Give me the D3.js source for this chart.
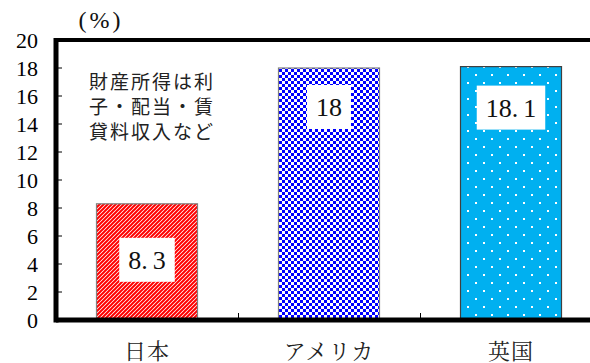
<!DOCTYPE html>
<html>
<head>
<meta charset="utf-8">
<script src="https://cdn.jsdelivr.net/npm/d3@7"></script>
<style>
  body { margin: 0; background: #fff; }
  svg { display: block; }
</style>
</head>
<body>
<div id="chart"></div>
<script>
// chart data
var categories = ["日本", "アメリカ", "英国"];
var values = [8.3, 18, 18.1];
var yTicks = [0, 2, 4, 6, 8, 10, 12, 14, 16, 18, 20];
var unitLabel = "(%)";
var noteLines = ["財産所得は利", "子・配当・賃", "貸料収入など"];

// layout / style
var width = 590, height = 363;
var plotLeft = 56, plotTop = 40, plotBottom = 320, bandRight = 602;
var fills = ["url(#stripe)", "url(#check)", "url(#dots)"];
var labelDrop = [56, 39, 41];   // px below bar top for the value box
var serif = "Liberation Serif";
var mincho = "Noto Serif CJK JP";
var gothic = "Noto Sans CJK JP";

var svg = d3.select("#chart").append("svg")
    .attr("width", width).attr("height", height);

// patterns
var defs = svg.append("defs");
var st = defs.append("pattern").attr("id", "stripe")
    .attr("patternUnits", "userSpaceOnUse").attr("width", 4).attr("height", 4);
st.append("rect").attr("width", 4).attr("height", 4).attr("fill", "#fff");
st.append("path").attr("d", "M-1,1 l2,-2 M0,4 l4,-4 M3,5 l2,-2")
    .attr("stroke", "#ff0000").attr("stroke-width", 2);

var ck = defs.append("pattern").attr("id", "check")
    .attr("patternUnits", "userSpaceOnUse").attr("width", 6).attr("height", 6);
ck.append("rect").attr("width", 6).attr("height", 6).attr("fill", "#fff");
ck.append("rect").attr("width", 3).attr("height", 3).attr("fill", "#0000ff");
ck.append("rect").attr("x", 3).attr("y", 3).attr("width", 3).attr("height", 3).attr("fill", "#0000ff");

var dt = defs.append("pattern").attr("id", "dots")
    .attr("patternUnits", "userSpaceOnUse").attr("width", 16).attr("height", 16)
    .attr("x", 3).attr("y", 2);
dt.append("rect").attr("width", 16).attr("height", 16).attr("fill", "#00b0f0");
dt.append("rect").attr("x", 0).attr("y", 0).attr("width", 2).attr("height", 2).attr("fill", "#fff");
dt.append("rect").attr("x", 8).attr("y", 8).attr("width", 2).attr("height", 2).attr("fill", "#fff");

// scales
var x = d3.scaleBand().domain(categories).range([plotLeft, bandRight]).padding(0);
var y = d3.scaleLinear().domain([0, 20]).range([plotBottom, plotTop]);
var barW = x.bandwidth() * 0.555;

// y axis labels + inner ticks
var yAxis = d3.axisLeft(y).tickValues(yTicks).tickSize(0).tickPadding(18);
var gy = svg.append("g").attr("transform", "translate(" + plotLeft + ",0)").call(yAxis)
    .attr("font-family", serif).attr("font-size", 22);
gy.select(".domain").remove();
gy.selectAll("text").style("font-family", serif).attr("fill", "#000");
svg.selectAll(".ytick").data(yTicks.slice(1, -1)).enter().append("line")
    .attr("x1", plotLeft).attr("x2", plotLeft + 6)
    .attr("y1", function (d) { return y(d); }).attr("y2", function (d) { return y(d); })
    .attr("stroke", "#000").attr("stroke-width", 1);

// category separators on the x axis
svg.selectAll(".xtick").data(categories.slice(1)).enter().append("line")
    .attr("x1", function (d) { return x(d) + 0.5; }).attr("x2", function (d) { return x(d) + 0.5; })
    .attr("y1", plotBottom - 7).attr("y2", plotBottom)
    .attr("stroke", "#000").attr("stroke-width", 1);

// bars
svg.selectAll(".bar").data(values).enter().append("rect")
    .attr("x", function (d, i) { return x(categories[i]) + (x.bandwidth() - barW) / 2; })
    .attr("y", function (d) { return y(d); })
    .attr("width", barW)
    .attr("height", function (d) { return y(0) - y(d); })
    .attr("fill", function (d, i) { return fills[i]; })
    .attr("stroke", function (d, i) { return i == 2 ? "#404040" : "#808080"; })
    .attr("stroke-width", 1.2);

// value labels in white boxes
values.forEach(function (v, i) {
    var cx = x(categories[i]) + x.bandwidth() / 2;
    var cy = y(v) + labelDrop[i];
    var g = svg.append("g");
    var bg = g.append("rect").attr("fill", "#fff");
    var t = g.append("text").attr("x", cx).attr("y", cy)
        .attr("text-anchor", "middle").attr("dominant-baseline", "central")
        .style("font-family", serif).style("font-size", "26px").attr("fill", "#111");
    var parts = String(v).split(".");
    t.append("tspan").text(parts[0]);
    if (parts.length > 1) {
        t.append("tspan").text(".");
        t.append("tspan").attr("dx", 5).text(parts[1]);
    }
    var bb = t.node().getBBox();
    var padX = 9, h = 44;
    bg.attr("x", bb.x - padX).attr("y", cy - h / 2)
        .attr("width", bb.width + padX * 2).attr("height", h);
});

// frame: thick left axis, bottom axis and top line
svg.append("line").attr("x1", plotLeft).attr("x2", width).attr("y1", plotTop).attr("y2", plotTop)
    .attr("stroke", "#000").attr("stroke-width", 4);
svg.append("line").attr("x1", plotLeft).attr("x2", width).attr("y1", plotBottom).attr("y2", plotBottom)
    .attr("stroke", "#000").attr("stroke-width", 5);
svg.append("line").attr("x1", plotLeft).attr("x2", plotLeft).attr("y1", plotTop - 2).attr("y2", plotBottom + 2.5)
    .attr("stroke", "#000").attr("stroke-width", 5);

// category labels
svg.selectAll(".cat").data(categories).enter().append("text")
    .attr("x", function (d) { return x(d) + x.bandwidth() / 2; })
    .attr("y", 349)
    .attr("text-anchor", "middle").attr("dominant-baseline", "central")
    .style("font-family", mincho).style("font-size", "22px").attr("letter-spacing", 1)
    .attr("fill", "#222")
    .text(function (d) { return d; });

// unit label
svg.append("text").attr("x", 101).attr("y", 20)
    .attr("text-anchor", "middle").attr("dominant-baseline", "central")
    .style("font-family", serif).style("font-size", "24px").attr("letter-spacing", 3)
    .attr("fill", "#111").text(unitLabel);

// note
svg.selectAll(".note").data(noteLines).enter().append("text")
    .attr("x", 89).attr("y", function (d, i) { return 80 + i * 25; })
    .attr("dominant-baseline", "central")
    .style("font-family", gothic).style("font-size", "19px").attr("letter-spacing", 2)
    .attr("fill", "#222")
    .text(function (d) { return d; });
</script>
</body>
</html>
